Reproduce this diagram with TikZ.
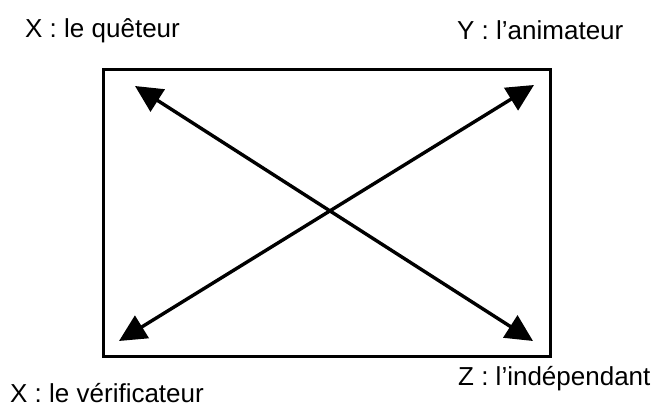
\documentclass[tikz,border=0pt]{standalone}
\usepackage{fontspec}
\setmainfont{Liberation Sans}
\usetikzlibrary{arrows.meta}
\begin{document}
\begin{tikzpicture}[x=1pt,y=-1pt,
  lbl/.style={anchor=base west,inner sep=0pt,font=\fontsize{26}{31}\selectfont},
  arr/.style={line width=3.4pt,{Triangle[length=27pt,width=26pt]}-{Triangle[length=27pt,width=26pt]}}]
  \useasboundingbox (0,0) rectangle (656,406);
  \draw[line width=3pt] (103,70) rectangle (550,356);
  \coordinate (XQ) at (135,86); \coordinate (YA) at (534,85);
  \coordinate (XV) at (119,341); \coordinate (ZI) at (533,341);
  \node[lbl] (quet) at (25,38) {X : le quêteur};
  \node[lbl] (anim) at (457,40) {Y : l’animateur};
  \node[lbl] (verif) at (10,402) {X : le vérificateur};
  \node[lbl] (indep) at (458,385) {Z : l’indépendant};
  \draw[arr] (XQ) -- (ZI);
  \draw[arr] (XV) -- (YA);
\end{tikzpicture}
\end{document}
